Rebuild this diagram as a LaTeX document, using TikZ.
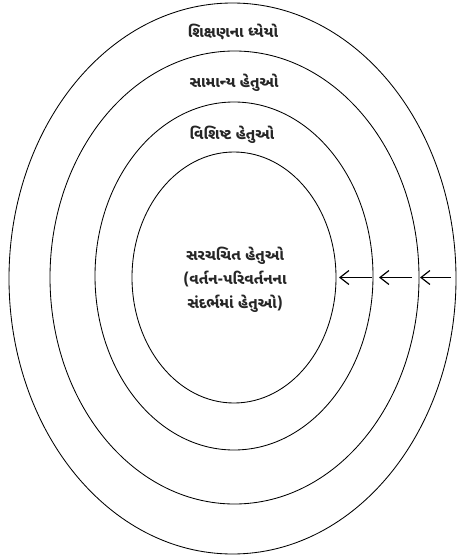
\documentclass[tikz,border=0pt]{standalone}
\usepackage{fontspec}
\usetikzlibrary{shapes.geometric,arrows.meta}
\newfontfamily\gujfont[Script=Gujarati]{Noto Sans Gujarati UI}
\tikzset{
  ring/.style={draw=black, line width=0.85pt, ellipse, inner sep=0pt, outer sep=0pt},
  lbl/.style={font=\gujfont\bfseries\fontsize{15}{24}\selectfont, text=black!85, align=center, inner sep=0pt},
  arr/.style={line width=1.2pt, -{Straight Barb[length=9pt,width=14pt,line width=1.2pt]}}
}
\begin{document}
\begin{tikzpicture}[x=1pt,y=-1pt]
\useasboundingbox (0,0) rectangle (456,559);
\node[ring, minimum width=447pt, minimum height=551pt] (e1) at (232.5,278.5) {};
\node[ring, minimum width=369pt, minimum height=453pt] (e2) at (234.5,277.5) {};
\node[ring, minimum width=278pt, minimum height=348pt] (e3) at (234,276) {};
\node[ring, minimum width=204pt, minimum height=251pt] (e4) at (234,277.5) {};
\node[lbl] (t1) at (233,32) {શિક્ષણના ધ્યેયો};
\node[lbl] (t2) at (234,83) {સામાન્ય હેતુઓ};
\node[lbl] (t3) at (232,135) {વિશિષ્ટ હેતુઓ};
\node[lbl] (t4) at (235,280) {સરચચિત હેતુઓ\\(વર્તન-પરિવર્તનના\\સંદર્ભમાં હેતુઓ)};
\draw[arr, shorten <=1pt, shorten >=3pt] (e3.east |- e4.east) -- (e4.east);
\draw[arr, shorten <=7pt, shorten >=6pt] (e2.east |- e4.east) -- (e3.east |- e4.east);
\draw[arr, shorten <=5pt, shorten >=1pt] (e1.east |- e4.east) -- (e2.east |- e4.east);
\end{tikzpicture}
\end{document}
